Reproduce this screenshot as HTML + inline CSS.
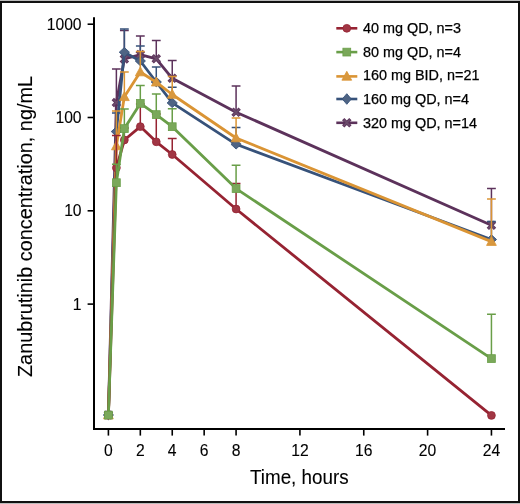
<!DOCTYPE html>
<html><head><meta charset="utf-8"><style>
html,body{margin:0;padding:0;background:#fff;}
body{width:520px;height:504px;overflow:hidden;}
svg{display:block;will-change:transform;}
text{font-family:"Liberation Sans",sans-serif;fill:#000;stroke:#000;stroke-width:0.1px;}
.tk{font-size:15.7px;}
.tt{font-size:19.3px;}
.tx{font-size:19.5px;}
.lg{font-size:14.4px;stroke-width:0.25px;}
</style></head><body>
<svg width="520" height="504" viewBox="0 0 520 504">
<rect x="0" y="0" width="520" height="504" fill="#fff"/>
<rect x="0" y="0" width="520" height="1" fill="#bbb"/>
<rect x="0" y="503" width="520" height="1" fill="#bbb"/>
<rect x="1" y="2" width="518" height="500" fill="none" stroke="#111" stroke-width="2"/>
<path d="M94,17.3V428.9H505" stroke="#000" stroke-width="2" fill="none"/>
<path d="M87.6,24.20H94" stroke="#000" stroke-width="1.6"/>
<text x="81.6" y="29.80" class="tk" text-anchor="end">1000</text>
<path d="M87.6,117.50H94" stroke="#000" stroke-width="1.6"/>
<text x="81.6" y="123.10" class="tk" text-anchor="end">100</text>
<path d="M87.6,210.80H94" stroke="#000" stroke-width="1.6"/>
<text x="81.6" y="216.40" class="tk" text-anchor="end">10</text>
<path d="M87.6,304.10H94" stroke="#000" stroke-width="1.6"/>
<text x="81.6" y="309.70" class="tk" text-anchor="end">1</text>
<path d="M108.40,429.5V435.6" stroke="#000" stroke-width="1.6"/>
<text x="108.40" y="456.2" class="tk" text-anchor="middle">0</text>
<path d="M140.32,429.5V435.6" stroke="#000" stroke-width="1.6"/>
<text x="140.32" y="456.2" class="tk" text-anchor="middle">2</text>
<path d="M172.24,429.5V435.6" stroke="#000" stroke-width="1.6"/>
<text x="172.24" y="456.2" class="tk" text-anchor="middle">4</text>
<path d="M204.16,429.5V435.6" stroke="#000" stroke-width="1.6"/>
<text x="204.16" y="456.2" class="tk" text-anchor="middle">6</text>
<path d="M236.08,429.5V435.6" stroke="#000" stroke-width="1.6"/>
<text x="236.08" y="456.2" class="tk" text-anchor="middle">8</text>
<path d="M299.92,429.5V435.6" stroke="#000" stroke-width="1.6"/>
<text x="299.92" y="456.2" class="tk" text-anchor="middle">12</text>
<path d="M363.76,429.5V435.6" stroke="#000" stroke-width="1.6"/>
<text x="363.76" y="456.2" class="tk" text-anchor="middle">16</text>
<path d="M427.60,429.5V435.6" stroke="#000" stroke-width="1.6"/>
<text x="427.60" y="456.2" class="tk" text-anchor="middle">20</text>
<path d="M491.44,429.5V435.6" stroke="#000" stroke-width="1.6"/>
<text x="491.44" y="456.2" class="tk" text-anchor="middle">24</text>
<text x="299.3" y="483.6" class="tx" text-anchor="middle" textLength="98.6" lengthAdjust="spacingAndGlyphs">Time, hours</text>
<text transform="translate(31.9,226.5) rotate(-90)" x="0" y="0" class="tt" text-anchor="middle" textLength="301" lengthAdjust="spacingAndGlyphs">Zanubrutinib concentration, ng/mL</text>
<path d="M116.38,102.60V69.00M111.98,69.00H120.78" stroke="#5c325b" stroke-width="1.5" fill="none"/>
<path d="M124.36,59.00V30.60M119.96,30.60H128.76" stroke="#5c325b" stroke-width="1.5" fill="none"/>
<path d="M140.32,54.60V35.90M135.92,35.90H144.72" stroke="#5c325b" stroke-width="1.5" fill="none"/>
<path d="M156.28,58.80V40.50M151.88,40.50H160.68" stroke="#5c325b" stroke-width="1.5" fill="none"/>
<path d="M172.24,78.30V60.50M167.84,60.50H176.64" stroke="#5c325b" stroke-width="1.5" fill="none"/>
<path d="M236.08,112.20V85.90M231.68,85.90H240.48" stroke="#5c325b" stroke-width="1.5" fill="none"/>
<path d="M491.44,225.20V188.40M487.04,188.40H495.84" stroke="#5c325b" stroke-width="1.5" fill="none"/>
<polyline points="108.40,415.00 116.38,102.60 124.36,59.00 140.32,54.60 156.28,58.80 172.24,78.30 236.08,112.20 491.44,225.20" stroke="#5c325b" stroke-width="2.8" fill="none" stroke-linejoin="round"/>
<path d="M104.80,411.40L112.00,418.60M112.00,411.40L104.80,418.60" stroke="#5c325b" stroke-width="3.3" stroke-linecap="butt" fill="none"/><path d="M105.30,411.90L111.50,418.10M111.50,411.90L105.30,418.10" stroke="#6b4c6b" stroke-width="1.7" stroke-linecap="butt" fill="none"/>
<path d="M112.78,99.00L119.98,106.20M119.98,99.00L112.78,106.20" stroke="#5c325b" stroke-width="3.3" stroke-linecap="butt" fill="none"/><path d="M113.28,99.50L119.48,105.70M119.48,99.50L113.28,105.70" stroke="#6b4c6b" stroke-width="1.7" stroke-linecap="butt" fill="none"/>
<path d="M120.76,55.40L127.96,62.60M127.96,55.40L120.76,62.60" stroke="#5c325b" stroke-width="3.3" stroke-linecap="butt" fill="none"/><path d="M121.26,55.90L127.46,62.10M127.46,55.90L121.26,62.10" stroke="#6b4c6b" stroke-width="1.7" stroke-linecap="butt" fill="none"/>
<path d="M136.72,51.00L143.92,58.20M143.92,51.00L136.72,58.20" stroke="#5c325b" stroke-width="3.3" stroke-linecap="butt" fill="none"/><path d="M137.22,51.50L143.42,57.70M143.42,51.50L137.22,57.70" stroke="#6b4c6b" stroke-width="1.7" stroke-linecap="butt" fill="none"/>
<path d="M152.68,55.20L159.88,62.40M159.88,55.20L152.68,62.40" stroke="#5c325b" stroke-width="3.3" stroke-linecap="butt" fill="none"/><path d="M153.18,55.70L159.38,61.90M159.38,55.70L153.18,61.90" stroke="#6b4c6b" stroke-width="1.7" stroke-linecap="butt" fill="none"/>
<path d="M168.64,74.70L175.84,81.90M175.84,74.70L168.64,81.90" stroke="#5c325b" stroke-width="3.3" stroke-linecap="butt" fill="none"/><path d="M169.14,75.20L175.34,81.40M175.34,75.20L169.14,81.40" stroke="#6b4c6b" stroke-width="1.7" stroke-linecap="butt" fill="none"/>
<path d="M232.48,108.60L239.68,115.80M239.68,108.60L232.48,115.80" stroke="#5c325b" stroke-width="3.3" stroke-linecap="butt" fill="none"/><path d="M232.98,109.10L239.18,115.30M239.18,109.10L232.98,115.30" stroke="#6b4c6b" stroke-width="1.7" stroke-linecap="butt" fill="none"/>
<path d="M487.84,221.60L495.04,228.80M495.04,221.60L487.84,228.80" stroke="#5c325b" stroke-width="3.3" stroke-linecap="butt" fill="none"/><path d="M488.34,222.10L494.54,228.30M494.54,222.10L488.34,228.30" stroke="#6b4c6b" stroke-width="1.7" stroke-linecap="butt" fill="none"/>
<path d="M116.38,131.60V113.00M111.98,113.00H120.78" stroke="#37527a" stroke-width="1.5" fill="none"/>
<path d="M124.36,52.20V28.90M119.96,28.90H128.76" stroke="#37527a" stroke-width="1.5" fill="none"/>
<path d="M140.32,61.00V45.90M135.92,45.90H144.72" stroke="#37527a" stroke-width="1.5" fill="none"/>
<path d="M156.28,82.00V67.10M151.88,67.10H160.68" stroke="#37527a" stroke-width="1.5" fill="none"/>
<path d="M172.24,102.90V87.20M167.84,87.20H176.64" stroke="#37527a" stroke-width="1.5" fill="none"/>
<path d="M236.08,144.30V127.40M231.68,127.40H240.48" stroke="#37527a" stroke-width="1.5" fill="none"/>
<path d="M491.44,239.50V221.50M487.04,221.50H495.84" stroke="#37527a" stroke-width="1.5" fill="none"/>
<polyline points="108.40,415.00 116.38,131.60 124.36,52.20 140.32,61.00 156.28,82.00 172.24,102.90 236.08,144.30 491.44,239.50" stroke="#37527a" stroke-width="2.8" fill="none" stroke-linejoin="round"/>
<path d="M108.40,410.30L113.50,415.00L108.40,419.70L103.30,415.00Z" fill="#4f6484" stroke="#37527a" stroke-width="0.9"/>
<path d="M116.38,126.90L121.48,131.60L116.38,136.30L111.28,131.60Z" fill="#4f6484" stroke="#37527a" stroke-width="0.9"/>
<path d="M124.36,47.50L129.46,52.20L124.36,56.90L119.26,52.20Z" fill="#4f6484" stroke="#37527a" stroke-width="0.9"/>
<path d="M140.32,56.30L145.42,61.00L140.32,65.70L135.22,61.00Z" fill="#4f6484" stroke="#37527a" stroke-width="0.9"/>
<path d="M156.28,77.30L161.38,82.00L156.28,86.70L151.18,82.00Z" fill="#4f6484" stroke="#37527a" stroke-width="0.9"/>
<path d="M172.24,98.20L177.34,102.90L172.24,107.60L167.14,102.90Z" fill="#4f6484" stroke="#37527a" stroke-width="0.9"/>
<path d="M236.08,139.60L241.18,144.30L236.08,149.00L230.98,144.30Z" fill="#4f6484" stroke="#37527a" stroke-width="0.9"/>
<path d="M491.44,234.80L496.54,239.50L491.44,244.20L486.34,239.50Z" fill="#4f6484" stroke="#37527a" stroke-width="0.9"/>
<path d="M116.38,146.00V110.90M111.98,110.90H120.78" stroke="#da9434" stroke-width="1.5" fill="none"/>
<path d="M124.36,96.80V72.00M119.96,72.00H128.76" stroke="#da9434" stroke-width="1.5" fill="none"/>
<path d="M140.32,72.00V51.40M135.92,51.40H144.72" stroke="#da9434" stroke-width="1.5" fill="none"/>
<path d="M172.24,94.50V76.60M167.84,76.60H176.64" stroke="#da9434" stroke-width="1.5" fill="none"/>
<path d="M236.08,138.00V117.90M231.68,117.90H240.48" stroke="#da9434" stroke-width="1.5" fill="none"/>
<path d="M491.44,241.60V199.10M487.04,199.10H495.84" stroke="#da9434" stroke-width="1.5" fill="none"/>
<polyline points="108.40,415.00 116.38,146.00 124.36,96.80 140.32,72.00 156.28,82.20 172.24,94.50 236.08,138.00 491.44,241.60" stroke="#da9434" stroke-width="2.8" fill="none" stroke-linejoin="round"/>
<path d="M108.40,409.90L113.30,418.80L103.50,418.80Z" fill="#d8983f" stroke="#da9434" stroke-width="0.8" stroke-linejoin="round"/>
<path d="M116.38,140.90L121.28,149.80L111.48,149.80Z" fill="#d8983f" stroke="#da9434" stroke-width="0.8" stroke-linejoin="round"/>
<path d="M124.36,91.70L129.26,100.60L119.46,100.60Z" fill="#d8983f" stroke="#da9434" stroke-width="0.8" stroke-linejoin="round"/>
<path d="M140.32,66.90L145.22,75.80L135.42,75.80Z" fill="#d8983f" stroke="#da9434" stroke-width="0.8" stroke-linejoin="round"/>
<path d="M156.28,77.10L161.18,86.00L151.38,86.00Z" fill="#d8983f" stroke="#da9434" stroke-width="0.8" stroke-linejoin="round"/>
<path d="M172.24,89.40L177.14,98.30L167.34,98.30Z" fill="#d8983f" stroke="#da9434" stroke-width="0.8" stroke-linejoin="round"/>
<path d="M236.08,132.90L240.98,141.80L231.18,141.80Z" fill="#d8983f" stroke="#da9434" stroke-width="0.8" stroke-linejoin="round"/>
<path d="M491.44,236.50L496.34,245.40L486.54,245.40Z" fill="#d8983f" stroke="#da9434" stroke-width="0.8" stroke-linejoin="round"/>
<path d="M116.38,167.80V135.50M111.98,135.50H120.78" stroke="#962332" stroke-width="1.5" fill="none"/>
<path d="M124.36,140.00V128.00M119.96,128.00H128.76" stroke="#962332" stroke-width="1.5" fill="none"/>
<path d="M140.32,126.60V104.00M135.92,104.00H144.72" stroke="#962332" stroke-width="1.5" fill="none"/>
<path d="M156.28,141.80V114.00M151.88,114.00H160.68" stroke="#962332" stroke-width="1.5" fill="none"/>
<path d="M172.24,154.50V138.40M167.84,138.40H176.64" stroke="#962332" stroke-width="1.5" fill="none"/>
<path d="M236.08,209.00V183.60M231.68,183.60H240.48" stroke="#962332" stroke-width="1.5" fill="none"/>
<polyline points="108.40,415.20 116.38,167.80 124.36,140.00 140.32,126.60 156.28,141.80 172.24,154.50 236.08,209.00 491.44,415.40" stroke="#962332" stroke-width="2.8" fill="none" stroke-linejoin="round"/>
<circle cx="108.40" cy="415.20" r="3.9" fill="#a13644" stroke="#962332" stroke-width="0.8"/>
<circle cx="116.38" cy="167.80" r="3.9" fill="#a13644" stroke="#962332" stroke-width="0.8"/>
<circle cx="124.36" cy="140.00" r="3.9" fill="#a13644" stroke="#962332" stroke-width="0.8"/>
<circle cx="140.32" cy="126.60" r="3.9" fill="#a13644" stroke="#962332" stroke-width="0.8"/>
<circle cx="156.28" cy="141.80" r="3.9" fill="#a13644" stroke="#962332" stroke-width="0.8"/>
<circle cx="172.24" cy="154.50" r="3.9" fill="#a13644" stroke="#962332" stroke-width="0.8"/>
<circle cx="236.08" cy="209.00" r="3.9" fill="#a13644" stroke="#962332" stroke-width="0.8"/>
<circle cx="491.44" cy="415.40" r="3.9" fill="#a13644" stroke="#962332" stroke-width="0.8"/>
<path d="M116.38,182.70V164.30M111.98,164.30H120.78" stroke="#699e48" stroke-width="1.5" fill="none"/>
<path d="M124.36,128.60V108.90M119.96,108.90H128.76" stroke="#699e48" stroke-width="1.5" fill="none"/>
<path d="M140.32,103.40V85.50M135.92,85.50H144.72" stroke="#699e48" stroke-width="1.5" fill="none"/>
<path d="M156.28,114.60V93.90M151.88,93.90H160.68" stroke="#699e48" stroke-width="1.5" fill="none"/>
<path d="M172.24,126.70V108.80M167.84,108.80H176.64" stroke="#699e48" stroke-width="1.5" fill="none"/>
<path d="M236.08,188.60V165.30M231.68,165.30H240.48" stroke="#699e48" stroke-width="1.5" fill="none"/>
<path d="M491.44,358.60V314.30M487.04,314.30H495.84" stroke="#699e48" stroke-width="1.5" fill="none"/>
<polyline points="108.40,415.10 116.38,182.70 124.36,128.60 140.32,103.40 156.28,114.60 172.24,126.70 236.08,188.60 491.44,358.60" stroke="#699e48" stroke-width="2.8" fill="none" stroke-linejoin="round"/>
<rect x="104.50" y="411.20" width="7.80" height="7.80" fill="#7aa85a" stroke="#699e48" stroke-width="0.8"/>
<rect x="112.48" y="178.80" width="7.80" height="7.80" fill="#7aa85a" stroke="#699e48" stroke-width="0.8"/>
<rect x="120.46" y="124.70" width="7.80" height="7.80" fill="#7aa85a" stroke="#699e48" stroke-width="0.8"/>
<rect x="136.42" y="99.50" width="7.80" height="7.80" fill="#7aa85a" stroke="#699e48" stroke-width="0.8"/>
<rect x="152.38" y="110.70" width="7.80" height="7.80" fill="#7aa85a" stroke="#699e48" stroke-width="0.8"/>
<rect x="168.34" y="122.80" width="7.80" height="7.80" fill="#7aa85a" stroke="#699e48" stroke-width="0.8"/>
<rect x="232.18" y="184.70" width="7.80" height="7.80" fill="#7aa85a" stroke="#699e48" stroke-width="0.8"/>
<rect x="487.54" y="354.70" width="7.80" height="7.80" fill="#7aa85a" stroke="#699e48" stroke-width="0.8"/>
<path d="M336.3,28.30H357.3" stroke="#962332" stroke-width="2.6"/>
<circle cx="346.80" cy="28.30" r="3.9" fill="#a13644" stroke="#962332" stroke-width="0.8"/>
<text x="363.0" y="32.90" class="lg">40 mg QD, n=3</text>
<path d="M336.3,52.10H357.3" stroke="#699e48" stroke-width="2.6"/>
<rect x="342.90" y="48.20" width="7.80" height="7.80" fill="#7aa85a" stroke="#699e48" stroke-width="0.8"/>
<text x="363.0" y="56.60" class="lg">80 mg QD, n=4</text>
<path d="M336.3,76.40H357.3" stroke="#da9434" stroke-width="2.6"/>
<path d="M346.80,71.30L351.70,80.20L341.90,80.20Z" fill="#d8983f" stroke="#da9434" stroke-width="0.8" stroke-linejoin="round"/>
<text x="363.0" y="80.30" class="lg">160 mg BID, n=21</text>
<path d="M336.3,99.00H357.3" stroke="#37527a" stroke-width="2.6"/>
<path d="M346.80,93.70L351.30,99.00L346.80,104.30L342.30,99.00Z" fill="#4f6484" stroke="#37527a" stroke-width="0.9"/>
<text x="363.0" y="104.00" class="lg">160 mg QD, n=4</text>
<path d="M336.3,122.80H357.3" stroke="#5c325b" stroke-width="2.6"/>
<path d="M343.20,119.20L350.40,126.40M350.40,119.20L343.20,126.40" stroke="#5c325b" stroke-width="3.3" stroke-linecap="butt" fill="none"/><path d="M343.70,119.70L349.90,125.90M349.90,119.70L343.70,125.90" stroke="#6b4c6b" stroke-width="1.7" stroke-linecap="butt" fill="none"/>
<text x="363.0" y="127.70" class="lg">320 mg QD, n=14</text>
</svg>
</body></html>
